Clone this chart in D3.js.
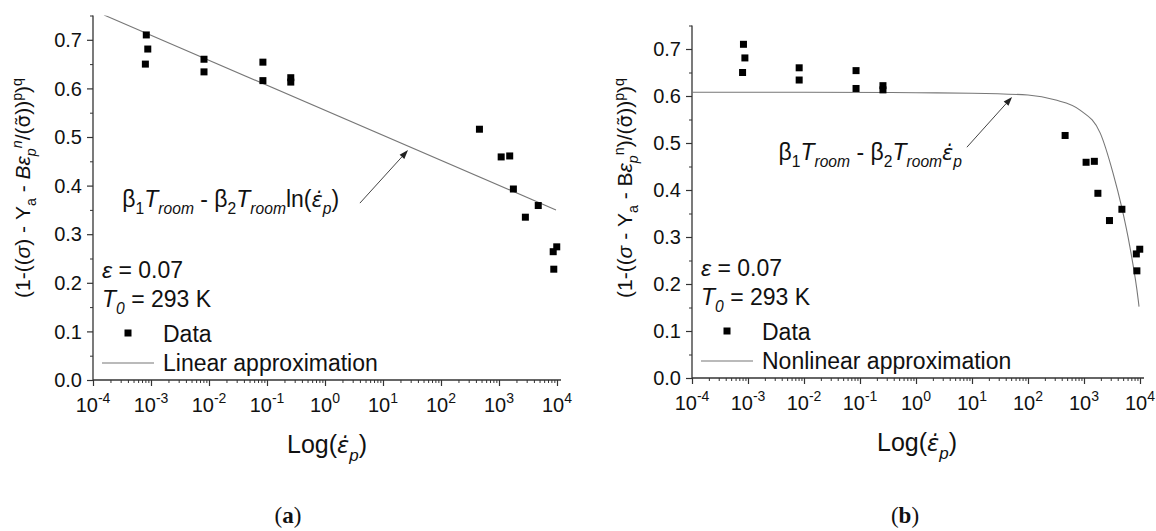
<!DOCTYPE html>
<html><head><meta charset="utf-8">
<script src="https://cdn.jsdelivr.net/npm/d3@7"></script>
<style>body{margin:0;background:#fff} text{font-family:"Liberation Sans",Arial,sans-serif;fill:#111}</style>
</head><body><svg id="c" width="1156" height="531"></svg>
<script>
// ---- data ----
const xTicks = [1e-4, 1e-3, 1e-2, 1e-1, 1e0, 1e1, 1e2, 1e3, 1e4];
const xTickExp = ["-4", "-3", "-2", "-1", "0", "1", "2", "3", "4"];
const yTicks = [0.0, 0.1, 0.2, 0.3, 0.4, 0.5, 0.6, 0.7];
const yTickLabels = ["0.0", "0.1", "0.2", "0.3", "0.4", "0.5", "0.6", "0.7"];

const dataX = [8.3e-4, 8.8e-4, 8.0e-4, 8.2e-3, 8.2e-3, 0.085, 0.085, 0.257, 0.257,
               460, 1090, 1530, 1770, 2850, 4750, 8600, 9900, 8800];
const dataY = [0.710, 0.681, 0.650, 0.660, 0.634, 0.654, 0.616, 0.622, 0.613,
               0.516, 0.459, 0.461, 0.393, 0.335, 0.359, 0.264, 0.274, 0.228];

const linearX = [1.55e-4, 9.6e3];
const linearY = [0.751, 0.350];

const nonlinX = [1e-4, 1e-2, 1, 10, 100, 300, 850, 1950, 3300, 4700, 6600, 9300, 9600];
const nonlinY = [0.608, 0.608, 0.607, 0.606, 0.602, 0.592, 0.570, 0.521, 0.436, 0.364, 0.279, 0.166, 0.152];

const svg = d3.select("#c");
const MARKFONT = '"DejaVu Sans",sans-serif';

function rich(sel, parts, base) {
  let off = 0;
  parts.forEach(p => {
    const target = p.s === 'sub' ? 0.30 * base : p.s === 'sup' ? -0.40 * base : 0;
    const ts = sel.append('tspan').text(p.t).attr('dy', target - off);
    off = target;
    if (p.s) ts.attr('font-size', base * 0.68);
    if (p.i) ts.attr('font-style', 'italic');
    if (p.f) ts.style('font-family', p.f);
    if (p.fs) ts.attr('font-size', base * p.fs);
  });
}

function panel(cfg) {
  const g = svg.append('g');
  const x = d3.scaleLog().domain([1e-4, 1e4]).range([cfg.x0, cfg.x0 + 8 * cfg.dec]);
  const y = d3.scaleLinear().domain([0, 0.75]).range([cfg.yb, cfg.yb - 7.5 * cfg.py]);
  const axisCol = '#333';

  const cid = 'clip' + cfg.id;
  svg.append('clipPath').attr('id', cid).append('rect')
    .attr('x', cfg.x0).attr('y', y(0.75)).attr('width', 8 * cfg.dec + 6).attr('height', cfg.yb - y(0.75));

  const minors = [];
  for (let k = -4; k < 4; k++) for (let m = 2; m <= 9; m++) minors.push(m * Math.pow(10, k));
  g.append('g').attr('transform', `translate(0,${cfg.yb})`)
    .call(d3.axisBottom(x).tickValues(minors).tickSize(3).tickFormat(''))
    .call(s => s.select('.domain').remove())
    .selectAll('line').attr('stroke', axisCol);
  g.append('g').attr('transform', `translate(0,${cfg.yb})`)
    .call(d3.axisBottom(x).tickValues(xTicks).tickSize(6).tickFormat(''))
    .call(s => s.select('.domain').remove())
    .selectAll('line').attr('stroke', axisCol).attr('stroke-width', 1.2);
  const yMinor = d3.range(0.05, 0.76, 0.1);
  g.append('g').attr('transform', `translate(${cfg.x0},0)`)
    .call(d3.axisLeft(y).tickValues(yMinor).tickSize(3).tickFormat(''))
    .call(s => s.select('.domain').remove())
    .selectAll('line').attr('stroke', axisCol);
  g.append('g').attr('transform', `translate(${cfg.x0},0)`)
    .call(d3.axisLeft(y).tickValues(yTicks).tickSize(6).tickFormat(''))
    .call(s => s.select('.domain').remove())
    .selectAll('line').attr('stroke', axisCol).attr('stroke-width', 1.2);
  g.append('line').attr('x1', cfg.x0).attr('x2', cfg.x0).attr('y1', cfg.yb).attr('y2', y(0.75))
    .attr('stroke', axisCol).attr('stroke-width', 1.3);
  g.append('line').attr('x1', cfg.x0).attr('x2', x(1e4) + 4).attr('y1', cfg.yb).attr('y2', cfg.yb)
    .attr('stroke', axisCol).attr('stroke-width', 1.3);

  xTicks.forEach((v, i) => {
    const t = g.append('text').attr('x', x(v)).attr('y', cfg.yb + 32).attr('text-anchor', 'middle')
      .attr('font-size', 20);
    t.append('tspan').text('10');
    t.append('tspan').text(xTickExp[i]).attr('font-size', 14).attr('dy', -9);
  });
  yTicks.forEach((v, i) => {
    g.append('text').attr('x', cfg.x0 - 11).attr('y', y(v)).attr('dy', '0.36em')
      .attr('text-anchor', 'end').attr('font-size', 20).text(yTickLabels[i]);
  });

  const xl = g.append('text').attr('x', cfg.xlab).attr('y', cfg.yb + 73).attr('text-anchor', 'middle').attr('font-size', 25);
  rich(xl, [{t: 'Log('}, {t: '\u03b5\u0307', i: 1, f: MARKFONT, fs: 0.9}, {t: 'p', s: 'sub', i: 1}, {t: ')'}], 25);

  const yl = g.append('text').attr('transform', `translate(${cfg.ylx},${cfg.yly}) rotate(-90)`)
    .attr('text-anchor', 'middle').attr('font-size', 21);
  rich(yl, cfg.ylabel, 21);

  const pts = cfg.lineX.map((v, i) => [x(v), y(cfg.lineY[i])]);
  g.append('path').attr('clip-path', `url(#${cid})`)
    .attr('d', d3.line().curve(cfg.curve)(pts))
    .attr('fill', 'none').attr('stroke', '#777').attr('stroke-width', 1.1);

  const sz = 7;
  g.selectAll('rect.pt').data(dataX).join('rect').attr('class', 'pt')
    .attr('x', (d) => x(d) - sz / 2).attr('y', (d, i) => y(dataY[i]) - sz / 2)
    .attr('width', sz).attr('height', sz).attr('fill', '#000');

  const ax1 = x(cfg.arrow[0]), ay1 = y(cfg.arrow[1]), ax2 = x(cfg.arrow[2]), ay2 = y(cfg.arrow[3]);
  const ang = Math.atan2(ay2 - ay1, ax2 - ax1);
  const L = 9, W = 3.2;
  const bx = ax2 - L * Math.cos(ang), by = ay2 - L * Math.sin(ang);
  g.append('line').attr('x1', ax1).attr('y1', ay1).attr('x2', bx).attr('y2', by)
    .attr('stroke', '#444').attr('stroke-width', 1);
  g.append('path').attr('d', `M${ax2},${ay2}L${bx - W * Math.sin(ang)},${by + W * Math.cos(ang)}L${bx + W * Math.sin(ang)},${by - W * Math.cos(ang)}Z`)
    .attr('fill', '#222');

  const an = g.append('text').attr('x', x(cfg.annPos[0])).attr('y', y(cfg.annPos[1])).attr('font-size', 23);
  rich(an, cfg.ann, 23);

  const lx = cfg.x0 + 9;
  const e1 = g.append('text').attr('x', lx).attr('y', cfg.yb - 102).attr('font-size', 23);
  rich(e1, [{t: '\u03b5', i: 1}, {t: ' = 0.07'}], 23);
  const e2 = g.append('text').attr('x', lx).attr('y', cfg.yb - 73).attr('font-size', 23);
  rich(e2, [{t: 'T', i: 1}, {t: '0', s: 'sub', i: 1}, {t: ' = 293 K'}], 23);

  g.append('rect').attr('x', cfg.x0 + 35 - 3.5).attr('y', cfg.yb - 47 - 3.5).attr('width', 7).attr('height', 7).attr('fill', '#000');
  g.append('text').attr('x', cfg.x0 + 70).attr('y', cfg.yb - 38).attr('font-size', 23).text('Data');
  g.append('line').attr('x1', cfg.x0 + 9).attr('x2', cfg.x0 + 61).attr('y1', cfg.yb - 17).attr('y2', cfg.yb - 17)
    .attr('stroke', '#777').attr('stroke-width', 1.1);
  g.append('text').attr('x', cfg.x0 + 70).attr('y', cfg.yb - 9).attr('font-size', 23).text(cfg.legendName);

  const cap = svg.append('text').attr('x', cfg.capX).attr('y', 523).attr('text-anchor', 'middle')
    .attr('font-size', 23).style('font-family', '"Liberation Serif","DejaVu Serif",serif');
  cap.append('tspan').text('(');
  cap.append('tspan').text(cfg.capLetter).attr('font-weight', 'bold');
  cap.append('tspan').text(')');
}

const SIGT = {t: '\u03c3\u0303', f: MARKFONT, fs: 0.95};

panel({
  id: 'a', x0: 93, dec: 58, yb: 380, py: 48.6, xlab: 327, ylx: 30, yly: 188,
  ylabel: [{t: '(1-(('}, {t: '\u03c3', i: 1}, {t: ') - Y'}, {t: 'a', s: 'sub'}, {t: ' - '}, {t: 'B\u03b5', i: 1},
           {t: 'p', s: 'sub', i: 1}, {t: 'n', s: 'sup', i: 1}, {t: '/('}, SIGT, {t: '))'},
           {t: 'p', s: 'sup'}, {t: ')'}, {t: 'q', s: 'sup'}],
  lineX: linearX, lineY: linearY, curve: d3.curveLinear,
  arrow: [4.0, 0.364, 27, 0.473],
  annPos: [3.2e-4, 0.356],
  ann: [{t: '\u03b2'}, {t: '1', s: 'sub'}, {t: 'T', i: 1}, {t: 'room', s: 'sub', i: 1}, {t: ' - \u03b2'}, {t: '2', s: 'sub'},
        {t: 'T', i: 1}, {t: 'room', s: 'sub', i: 1}, {t: 'ln('}, {t: '\u03b5\u0307', i: 1, f: MARKFONT, fs: 0.9}, {t: 'p', s: 'sub', i: 1}, {t: ')'}],
  legendName: 'Linear approximation', capX: 288, capLetter: 'a'
});

panel({
  id: 'b', x0: 692, dec: 56, yb: 378, py: 47, xlab: 917, ylx: 632, yly: 188,
  ylabel: [{t: '(1-(('}, {t: '\u03c3', i: 1}, {t: ' - Y'}, {t: 'a', s: 'sub'}, {t: ' - B'}, {t: '\u03b5', i: 1},
           {t: 'p', s: 'sub', i: 1}, {t: 'n', s: 'sup'}, {t: ')/('}, SIGT, {t: '))'},
           {t: 'p', s: 'sup'}, {t: ')'}, {t: 'q', s: 'sup'}],
  lineX: nonlinX, lineY: nonlinY, curve: d3.curveMonotoneX,
  arrow: [8.1, 0.491, 52, 0.598],
  annPos: [3.5e-3, 0.464],
  ann: [{t: '\u03b2'}, {t: '1', s: 'sub'}, {t: 'T', i: 1}, {t: 'room', s: 'sub', i: 1}, {t: ' - \u03b2'}, {t: '2', s: 'sub'},
        {t: 'T', i: 1}, {t: 'room', s: 'sub', i: 1}, {t: '\u03b5\u0307', i: 1, f: MARKFONT, fs: 0.9}, {t: 'p', s: 'sub', i: 1}],
  legendName: 'Nonlinear approximation', capX: 905, capLetter: 'b'
});
</script></body></html>
